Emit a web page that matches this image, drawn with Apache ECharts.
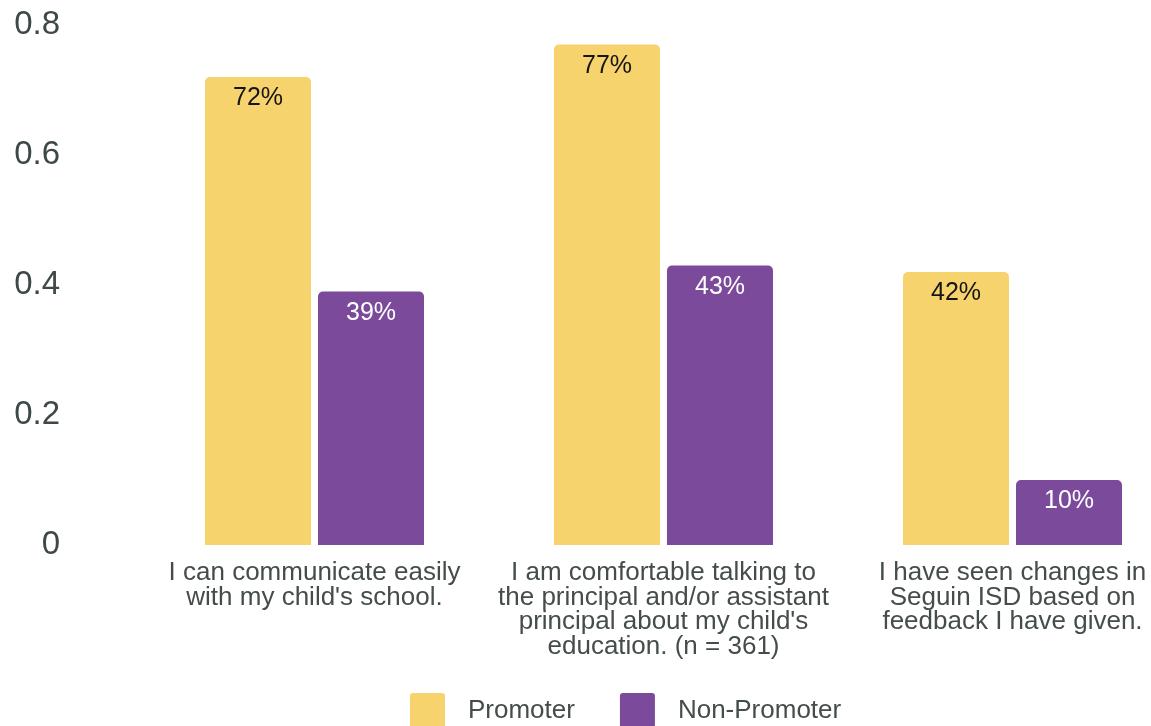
<!DOCTYPE html>
<html>
<head>
<meta charset="utf-8">
<script src="https://cdn.jsdelivr.net/npm/echarts@6/dist/echarts.min.js"></script>
<style>
  html, body { margin: 0; padding: 0; background: #ffffff; }
  #chart { width: 1151px; height: 726px; }
</style>
</head>
<body>
<div id="chart"></div>
<script>
const categories = [
  "I can communicate easily\nwith my child's school.",
  "I am comfortable talking to\nthe principal and/or assistant\nprincipal about my child's\neducation. (n = 361)",
  "I have seen changes in\nSeguin ISD based on\nfeedback I have given."
];
const promoter = [0.72, 0.77, 0.42];
const nonPromoter = [0.39, 0.43, 0.10];
const seriesNames = ["Promoter", "Non-Promoter"];
const yTicks = { min: 0, max: 0.8, interval: 0.2 };

const FONT = '"Liberation Sans", Arial, Helvetica, sans-serif';
const chart = echarts.init(document.getElementById('chart'), null, { renderer: 'canvas' });

const pct = p => Math.round(p.value * 100) + '%';
const legendIcon = 'path://M3,0 H32 Q35,0 35,3 V32 Q35,35 32,35 H3 Q0,35 0,32 V3 Q0,0 3,0 Z';

chart.setOption({
  animation: false,
  backgroundColor: '#ffffff',
  grid: { left: 140, top: 25, width: 1047, height: 520, containLabel: false, outerBoundsMode: 'none' },
  legend: {
    left: 410,
    top: 693,
    padding: 0,
    itemWidth: 35,
    itemHeight: 35,
    itemGap: 45,
    icon: legendIcon,
    data: seriesNames,
    textStyle: { fontFamily: FONT, fontSize: 26, color: '#444c4c', padding: [0, 0, 0, 18] }
  },
  xAxis: {
    type: 'category',
    data: categories,
    axisLine: { show: false },
    axisTick: { show: false },
    axisLabel: {
      interval: 0,
      margin: 16,
      fontFamily: FONT,
      fontSize: 26,
      lineHeight: 24.5,
      color: '#444c4c',
      align: 'center'
    }
  },
  yAxis: {
    type: 'value',
    min: yTicks.min,
    max: yTicks.max,
    interval: yTicks.interval,
    axisLine: { show: false },
    axisTick: { show: false },
    splitLine: { show: false },
    axisLabel: {
      margin: 80,
      fontFamily: FONT,
      fontSize: 33,
      color: '#3e4848'
    }
  },
  series: [
    {
      name: seriesNames[0],
      type: 'bar',
      data: promoter,
      barWidth: 106,
      barGap: '6.6%',
      itemStyle: { color: '#F7D36E', borderRadius: [5, 5, 0, 0] },
      label: {
        show: true,
        position: 'insideTop',
        distance: 9,
        formatter: pct,
        fontFamily: FONT,
        fontSize: 25,
        color: '#141414'
      }
    },
    {
      name: seriesNames[1],
      type: 'bar',
      data: nonPromoter,
      barWidth: 106,
      itemStyle: { color: '#7B4A9B', borderRadius: [5, 5, 0, 0] },
      label: {
        show: true,
        position: 'insideTop',
        distance: 9,
        formatter: pct,
        fontFamily: FONT,
        fontSize: 25,
        color: '#ffffff'
      }
    }
  ]
});
</script>
</body>
</html>
